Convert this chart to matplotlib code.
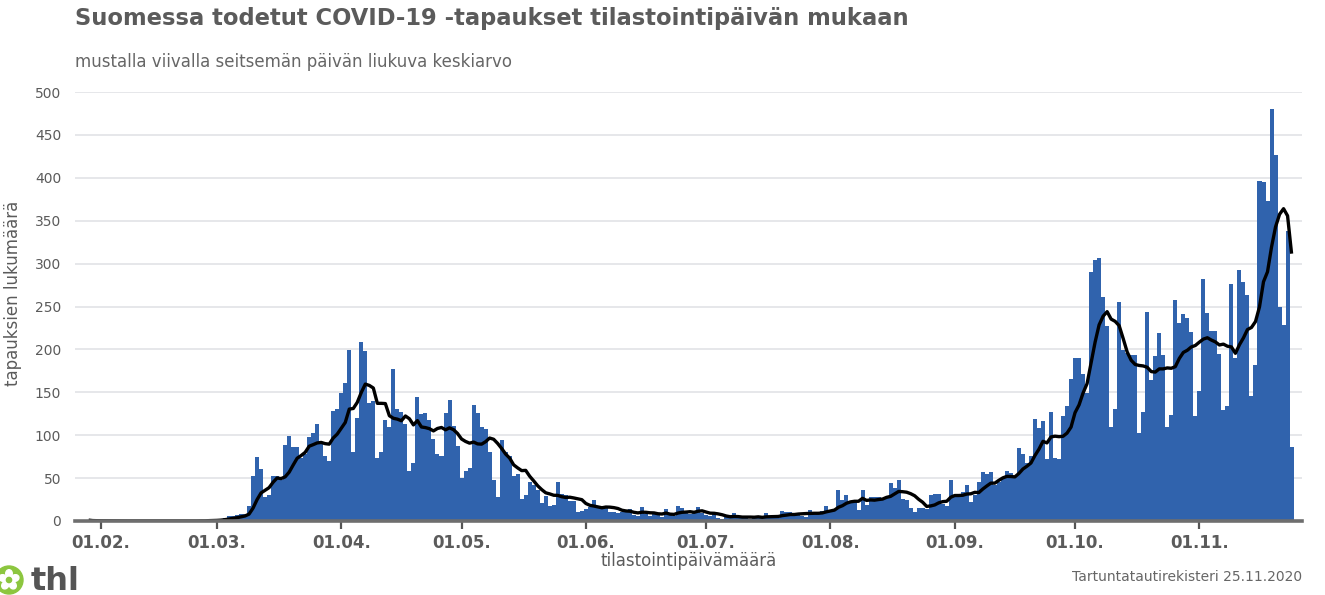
import matplotlib
matplotlib.use("Agg")
import matplotlib.pyplot as plt
import matplotlib.dates as mdates
import numpy as np
import pandas as pd
from matplotlib.patches import Circle, Ellipse

# daily cases by statistics date, 29.1.2020 - 24.11.2020
cases_jan = [1, 0, 0]
cases_feb = [0, 0, 0, 0, 0, 0, 0, 0, 0, 0, 0, 0, 0, 0, 0, 0, 0, 0, 0, 0,
             0, 0, 0, 0, 0, 1, 0, 2, 1]
cases_mar = [1, 2, 4, 6, 6, 7, 8, 8, 17, 53, 75, 61, 28, 30, 52, 52, 48,
             89, 99, 86, 86, 74, 78, 98, 102, 113, 90, 76, 70, 128, 130]
cases_apr = [149, 161, 199, 81, 120, 209, 198, 138, 140, 74, 81, 118, 110,
             177, 131, 127, 113, 58, 68, 145, 125, 126, 118, 95, 78, 76,
             126, 141, 111, 87]
cases_may = [50, 58, 62, 135, 126, 109, 107, 80, 48, 28, 94, 80, 76, 52, 55,
             26, 30, 46, 42, 36, 21, 29, 17, 19, 45, 31, 30, 23, 23, 10, 12]
cases_jun = [14, 16, 24, 16, 16, 16, 11, 10, 9, 10, 10, 14, 7, 6, 16, 8, 6,
             9, 7, 5, 14, 7, 6, 17, 15, 9, 8, 9, 16, 9]
cases_jul = [7, 6, 8, 3, 2, 6, 3, 9, 5, 4, 3, 2, 5, 6, 5, 9, 5, 4, 3, 12,
             10, 10, 9, 9, 6, 5, 13, 11, 10, 12, 18]
cases_aug = [13, 12, 36, 24, 30, 23, 23, 13, 36, 19, 28, 28, 28, 27, 27, 44,
             39, 48, 26, 24, 15, 10, 15, 15, 14, 30, 32, 32, 20, 18, 48]
cases_sep = [28, 30, 34, 42, 22, 30, 46, 57, 55, 57, 42, 45, 50, 58, 56, 52,
             85, 78, 68, 76, 119, 108, 116, 72, 127, 74, 72, 122, 134, 165]
cases_oct = [190, 190, 171, 149, 290, 304, 306, 261, 227, 110, 131, 255, 199,
             196, 193, 193, 102, 127, 244, 164, 192, 219, 193, 110, 124, 257,
             231, 241, 237, 220, 122]
cases_nov = [151, 282, 242, 222, 222, 195, 129, 134, 276, 190, 292, 278, 263,
             146, 182, 396, 395, 373, 480, 427, 249, 228, 338, 86]

month_ticks = ["2020-02-01", "2020-03-01", "2020-04-01", "2020-05-01",
               "2020-06-01", "2020-07-01", "2020-08-01", "2020-09-01",
               "2020-10-01", "2020-11-01"]
y_ticks = [0, 50, 100, 150, 200, 250, 300, 350, 400, 450, 500]

BAR_COLOR = "#3063ad"
TEXT_COLOR = "#5b5b5b"

cases = (cases_jan + cases_feb + cases_mar + cases_apr + cases_may + cases_jun
         + cases_jul + cases_aug + cases_sep + cases_oct + cases_nov)
dates = pd.date_range("2020-01-29", periods=len(cases), freq="D")
series = pd.Series(cases, index=dates)
moving_avg = series.rolling(7, min_periods=1).mean()

fig = plt.figure(figsize=(13.25, 5.95), dpi=100)
ax = fig.add_axes([75 / 1325, 1 - 521 / 595, 1227 / 1325, 429 / 595])

ax.bar(dates, series.values, width=1.0, color=BAR_COLOR, linewidth=0,
       align="center", zorder=2)
ax.plot(dates, moving_avg.values, color="black", linewidth=2.4, zorder=3,
        solid_capstyle="butt")

feb1 = mdates.date2num(pd.Timestamp("2020-02-01"))
ax.set_xlim(feb1 - 6.4, feb1 + 299.6)
ax.set_ylim(0, 500)

ax.set_yticks(y_ticks)
ax.set_yticklabels([str(v) for v in y_ticks])
ax.tick_params(axis="y", length=0, pad=10, labelsize=10, labelcolor=TEXT_COLOR)
ax.grid(axis="y", color="#e1e3e6", linewidth=1.2, zorder=0)
ax.set_axisbelow(True)

ax.set_xticks([mdates.date2num(pd.Timestamp(d)) for d in month_ticks])
ax.set_xticklabels([pd.Timestamp(d).strftime("%d.%m.") for d in month_ticks],
                   fontweight="bold")
ax.tick_params(axis="x", length=6, width=1.6, color="#555555", pad=3,
               labelsize=12, labelcolor=TEXT_COLOR)

for side in ["top", "right", "left"]:
    ax.spines[side].set_visible(False)
ax.spines["bottom"].set_color("#6e6e6e")
ax.spines["bottom"].set_linewidth(2.6)
ax.spines["bottom"].set_zorder(4)

ax.set_ylabel("tapauksien lukumäärä", fontsize=12, color=TEXT_COLOR)
ax.yaxis.set_label_coords(-0.043, 0.53)
ax.set_xlabel("tilastointipäivämäärä", fontsize=12, color=TEXT_COLOR)
ax.xaxis.set_label_coords(0.5, -0.093)
ax.xaxis.label.set_va("center")

fig.text(75 / 1325, 1 - 18 / 595,
         "Suomessa todetut COVID-19 -tapaukset tilastointipäivän mukaan",
         fontsize=16.3, fontweight="bold", color=TEXT_COLOR, va="center")
fig.text(75 / 1325, 1 - 62 / 595,
         "mustalla viivalla seitsemän päivän liukuva keskiarvo",
         fontsize=12, color="#666666", va="center")
fig.text(1302 / 1325, 1 - 577 / 595, "Tartuntatautirekisteri 25.11.2020",
         fontsize=10, color="#666666", ha="right", va="center")

# thl logo, bottom left
logo = fig.add_axes([0, 0, 90 / 1325, 40 / 595])
logo.set_xlim(0, 90)
logo.set_ylim(0, 40)
logo.set_aspect("equal")
logo.axis("off")
logo.add_patch(Circle((9, 15), 14, color="#8cc63f", zorder=1))
for ang in np.arange(90, 450, 72):
    r = np.deg2rad(ang)
    logo.add_patch(Ellipse((9 + 6.4 * np.cos(r), 15 + 6.4 * np.sin(r)),
                           7.8, 6.6, angle=ang, color="white", zorder=2))
logo.add_patch(Circle((9, 15), 2.6, color="#8cc63f", zorder=3))
logo.text(31, 13.5, "thl", fontsize=23, fontweight="bold", color="#555555",
          va="center", ha="left")

fig.savefig("out.png", dpi=100)
